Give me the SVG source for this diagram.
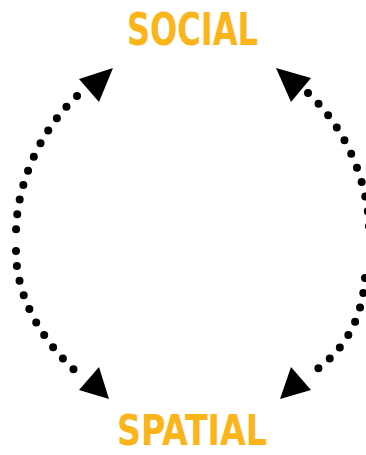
<svg xmlns="http://www.w3.org/2000/svg" width="366" height="455" viewBox="0 0 366 455">
<style>
.lbl{font-family:"DejaVu Sans Condensed","DejaVu Sans","Liberation Sans",sans-serif;font-weight:bold;fill:#FBB41A}
.dots{fill:none;stroke:#000;stroke-width:8;stroke-linecap:round;stroke-dasharray:0 15}
.head{fill:#000}
</style>
<rect width="366" height="455" fill="#fff"/>
<g id="social"><text class="lbl" x="127" y="45" font-size="45" textLength="131" lengthAdjust="spacingAndGlyphs">SOCIAL</text></g>
<g id="spatial"><text class="lbl" x="117" y="445" font-size="42" textLength="150" lengthAdjust="spacingAndGlyphs">SPATIAL</text></g>
<g id="connectors">
<path class="dots" d="M77,96 C40,130 16,185 16,234"/>
<path class="dots" d="M16,251 C16,300 45,345 81,376"/>
<path class="dots" d="M308,93 C345,127 369,182 369,231"/>
<path class="dots" d="M365,278 C362,320 345,350 312,373"/>
<polygon class="head" points="113,68 79,79 99,102"/>
<polygon class="head" points="109,399 79,390 99,367"/>
<polygon class="head" points="276,68 311,78 291,102"/>
<polygon class="head" points="280,399 291,367 311,390"/>
</g>
</svg>
